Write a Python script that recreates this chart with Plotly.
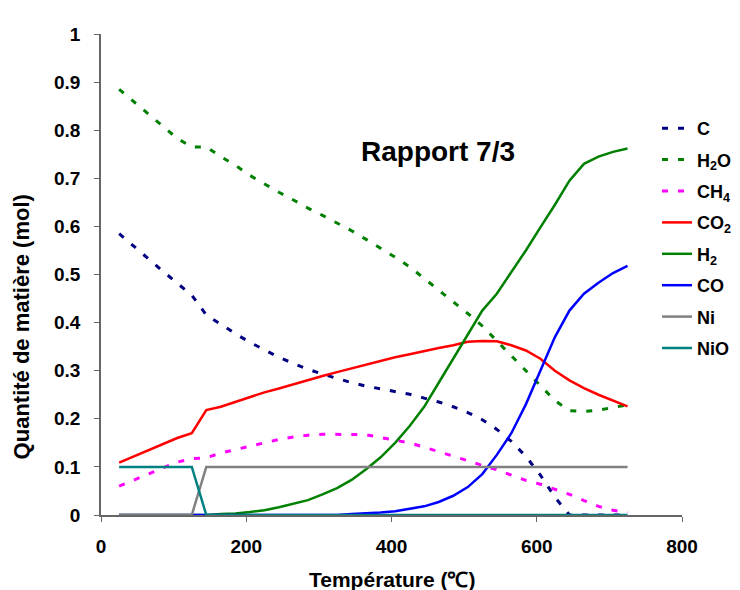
import plotly.graph_objects as go

temps = list(range(25, 726, 20))

C = [0.585, 0.558, 0.533, 0.507, 0.483, 0.457, 0.416, 0.396, 0.377, 0.359,
     0.344, 0.328, 0.315, 0.303, 0.293, 0.284, 0.275, 0.268, 0.262, 0.256,
     0.251, 0.243, 0.235, 0.225, 0.213, 0.198, 0.178, 0.153, 0.122, 0.083,
     0.037, 0.0, 0.0, 0.0, 0.0, 0.0]
H2O = [0.885, 0.860, 0.834, 0.808, 0.783, 0.765, 0.765, 0.745, 0.727, 0.706,
       0.688, 0.671, 0.655, 0.638, 0.623, 0.607, 0.591, 0.573, 0.555, 0.536,
       0.516, 0.492, 0.468, 0.445, 0.419, 0.393, 0.362, 0.332, 0.301, 0.270,
       0.238, 0.217, 0.215, 0.218, 0.224, 0.229]
CH4 = [0.060, 0.072, 0.085, 0.098, 0.110, 0.117, 0.119, 0.129, 0.136, 0.142,
       0.150, 0.157, 0.162, 0.166, 0.168, 0.168, 0.168, 0.167, 0.161, 0.156,
       0.150, 0.141, 0.132, 0.123, 0.113, 0.103, 0.094, 0.083, 0.072, 0.064,
       0.054, 0.043, 0.030, 0.018, 0.010, 0.005]
CO2 = [0.109, 0.122, 0.135, 0.148, 0.160, 0.170, 0.218, 0.225, 0.235, 0.246,
       0.255, 0.263, 0.272, 0.281, 0.289, 0.297, 0.305, 0.313, 0.320, 0.328,
       0.334, 0.341, 0.347, 0.353, 0.360, 0.362, 0.361, 0.353, 0.342, 0.325,
       0.300, 0.280, 0.264, 0.250, 0.238, 0.226]
H2 = [0.0, 0.0, 0.0, 0.0, 0.0, 0.0, 0.0, 0.002, 0.003, 0.006,
      0.010, 0.016, 0.023, 0.031, 0.043, 0.056, 0.073, 0.095, 0.120, 0.150,
      0.185, 0.225, 0.275, 0.325, 0.375, 0.425, 0.460, 0.505, 0.550, 0.598,
      0.645, 0.695, 0.730, 0.745, 0.755, 0.762]
CO = [0.0, 0.0, 0.0, 0.0, 0.0, 0.0, 0.0, 0.0, 0.0, 0.0,
      0.0, 0.0, 0.0, 0.0, 0.0, 0.0, 0.002, 0.003, 0.005, 0.008,
      0.013, 0.018, 0.027, 0.040, 0.058, 0.085, 0.125, 0.170, 0.230, 0.300,
      0.370, 0.425, 0.460, 0.483, 0.503, 0.518]
Ni = [0.0, 0.0, 0.0, 0.0, 0.0, 0.0] + [0.1] * 30
NiO = [0.1, 0.1, 0.1, 0.1, 0.1, 0.1] + [0.0] * 30

series = [
    ("C", C, "#000080", "6px,10px", 3),
    ("H<sub>2</sub>O", H2O, "#008000", "6px,10px", 3),
    ("CH<sub>4</sub>", CH4, "#FF00FF", "6px,10px", 3),
    ("CO<sub>2</sub>", CO2, "#FF0000", "solid", 2.5),
    ("H<sub>2</sub>", H2, "#008000", "solid", 2.5),
    ("CO", CO, "#0000FF", "solid", 2.5),
    ("Ni", Ni, "#808080", "solid", 2.5),
    ("NiO", NiO, "#008080", "solid", 2.5),
]

FONT = "Liberation Sans, Arial, sans-serif"

fig = go.Figure()
for i, (name, vals, color, dash, w) in enumerate(series):
    fig.add_trace(go.Scatter(
        x=temps, y=vals, name=name, mode="lines",
        line=dict(color=color, width=w, dash=dash),
        cliponaxis=False, legendgroup=f"g{i}",
    ))

fig.update_layout(
    width=740, height=590,
    margin=dict(l=93, r=66, t=26, b=83, autoexpand=False),
    plot_bgcolor="white", paper_bgcolor="white",
    font=dict(family=FONT, size=18, color="black", weight="bold"),
    showlegend=True,
    legend=dict(x=0.957, y=0.842, xanchor="left", yanchor="top",
                font=dict(family=FONT, size=18, color="black", weight="bold"),
                tracegroupgap=5, bgcolor="rgba(0,0,0,0)"),
    annotations=[
        dict(text="Rapport 7/3", x=0.58, y=0.755, xref="paper", yref="paper",
             showarrow=False, xanchor="center", yanchor="middle",
             font=dict(family=FONT, size=28, color="black", weight="bold")),
        dict(text="Quantité de matière (mol)", x=0, y=0.39, xref="paper", yref="paper",
             xshift=-80, textangle=-90, showarrow=False,
             xanchor="center", yanchor="middle",
             font=dict(family=FONT, size=22, color="black", weight="bold")),
        dict(text="Température (℃)", x=0.5, y=0, xref="paper", yref="paper",
             yshift=-64, showarrow=False, xanchor="center", yanchor="middle",
             font=dict(family=FONT, size=21, color="black", weight="bold")),
    ],
)
fig.update_xaxes(range=[0, 800], dtick=200, showgrid=False, zeroline=False,
                 automargin=False,
                 showline=True, linecolor="#666666", linewidth=1.5,
                 ticks="outside", ticklen=5, tickcolor="#666666",
                 ticklabelstandoff=8,
                 tickfont=dict(family=FONT, size=19, weight="bold"))
fig.update_yaxes(range=[0, 1], dtick=0.1, showgrid=False, zeroline=False,
                 automargin=False,
                 showline=True, linecolor="#666666", linewidth=1.5,
                 ticks="outside", ticklen=5, tickcolor="#666666",
                 ticklabelstandoff=10,
                 tickfont=dict(family=FONT, size=19, weight="bold"))

fig.write_html("out.html")
